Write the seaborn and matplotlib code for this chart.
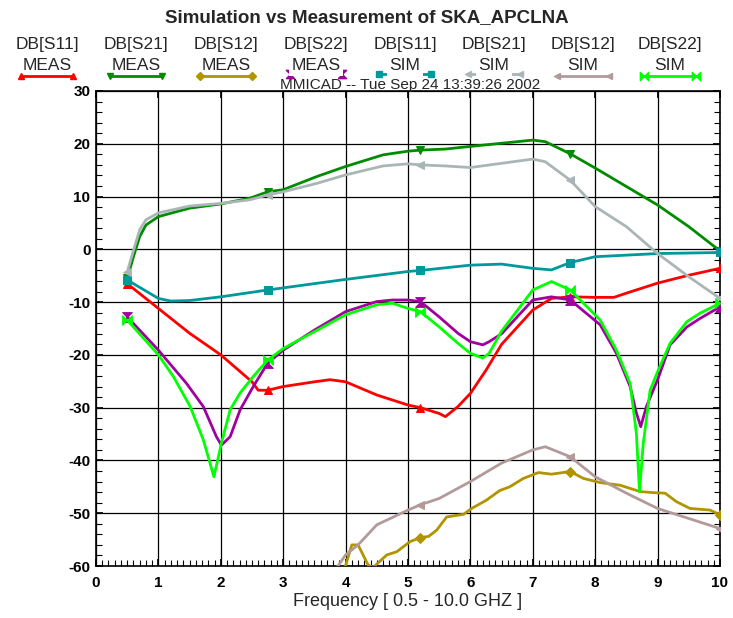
import numpy as np
import pandas as pd
import seaborn as sns
import matplotlib.pyplot as plt
from matplotlib.lines import Line2D
from matplotlib.path import Path

# ---------------- data ----------------
s11_meas_x = [0.5, 1.0, 1.5, 2.0, 2.5, 2.6, 2.75, 3.0, 3.5, 3.75, 4.0, 4.5, 5.0, 5.2, 5.5, 5.6, 5.8, 6.0,
              6.25, 6.5, 7.0, 7.3, 7.6, 8.0, 8.3, 8.5, 9.0, 9.5, 10.0]
s11_meas_y = [-6.5, -11.2, -15.9, -20.0, -25.1, -26.7, -26.7, -26.0, -25.1, -24.7, -25.1, -27.6, -29.5, -30.0,
              -31.1, -31.7, -29.8, -27.3, -22.9, -18.0, -11.5, -9.3, -9.0, -9.1, -9.1, -8.3, -6.4, -4.9, -3.6]

s21_meas_x = [0.5, 0.6, 0.7, 0.8, 1.0, 1.5, 2.0, 2.47, 2.75, 3.0, 3.54, 4.0, 4.6, 5.0, 5.2, 5.6, 6.0, 6.5,
              7.0, 7.2, 7.6, 8.0, 8.5, 9.0, 9.5, 10.0]
s21_meas_y = [-5.5, -1.4, 2.4, 4.6, 6.2, 7.8, 8.6, 9.7, 10.9, 11.3, 13.8, 15.7, 17.9, 18.6, 18.8, 19.0, 19.5,
              20.1, 20.7, 20.4, 18.1, 15.4, 11.9, 8.4, 4.3, -0.3]

s12_meas_x = [3.99, 4.1, 4.2, 4.36, 4.44, 4.66, 4.82, 5.03, 5.2, 5.33, 5.46, 5.62, 5.89, 6.02, 6.26, 6.47,
              6.63, 6.85, 7.09, 7.3, 7.6, 7.81, 8.08, 8.4, 8.72, 8.93, 9.12, 9.3, 9.52, 9.84, 10.0]
s12_meas_y = [-60.3, -56.0, -56.0, -59.8, -60.3, -57.9, -57.3, -55.4, -54.6, -54.4, -53.2, -50.7, -50.2,
              -49.1, -47.5, -45.7, -45.0, -43.4, -42.3, -42.6, -42.1, -43.4, -44.2, -44.7, -45.9, -46.1,
              -46.2, -47.8, -49.1, -49.4, -50.3]

s22_meas_x = [0.5, 1.0, 1.45, 1.72, 1.93, 2.01, 2.15, 2.31, 2.52, 2.75, 3.0, 3.5, 4.0, 4.5, 4.75, 5.0, 5.2,
              5.5, 5.8, 6.0, 6.2, 6.3, 6.5, 7.0, 7.3, 7.6, 8.08, 8.34, 8.56, 8.66, 8.73, 8.82, 9.01,
              9.2, 9.47, 9.68, 10.0]
s22_meas_y = [-12.8, -19.1, -25.4, -29.8, -35.5, -37.1, -35.5, -30.4, -26.0, -21.6, -19.1, -15.3, -11.8,
              -9.9, -9.6, -9.6, -9.9, -12.8, -15.9, -17.5, -18.1, -17.5, -16.0, -9.6, -9.0, -9.6, -14.3,
              -19.7, -26.0, -31.0, -33.6, -29.8, -24.4, -18.1, -14.7, -13.1, -10.9]

s11_sim_x = [0.5, 1.0, 1.2, 1.5, 2.0, 2.75, 3.0, 4.0, 5.0, 5.2, 6.0, 6.5, 7.0, 7.3, 7.6, 8.0, 8.5, 9.0, 10.0]
s11_sim_y = [-5.8, -9.3, -9.8, -9.7, -9.0, -7.7, -7.3, -5.7, -4.2, -4.0, -3.0, -2.8, -3.6, -3.9, -2.5,
             -1.4, -1.1, -0.8, -0.6]

s21_sim_x = [0.5, 0.6, 0.7, 0.8, 1.0, 1.5, 2.0, 2.47, 2.75, 3.0, 3.54, 4.0, 4.6, 5.0, 5.2, 5.6, 6.0, 6.5,
             7.0, 7.2, 7.6, 8.0, 8.5, 9.0, 9.5, 10.0]
s21_sim_y = [-4.3, -0.2, 3.7, 5.6, 6.9, 8.2, 8.7, 9.4, 10.3, 10.9, 12.5, 14.1, 15.8, 16.2, 16.0, 15.8, 15.5,
             16.3, 17.1, 16.6, 13.1, 8.1, 4.3, -0.8, -5.2, -9.3]

s12_sim_x = [3.86, 4.0, 4.2, 4.5, 5.0, 5.2, 5.5, 6.0, 6.5, 7.0, 7.2, 7.6, 8.0, 8.5, 9.0, 9.5, 10.0]
s12_sim_y = [-60.3, -57.9, -56.0, -52.2, -49.4, -48.4, -47.2, -44.0, -40.5, -38.0, -37.4, -39.3, -43.1,
             -46.2, -49.1, -51.0, -52.9]

s22_sim_x = [0.5, 1.0, 1.24, 1.51, 1.72, 1.89, 2.01, 2.15, 2.31, 2.52, 2.75, 3.0, 3.5, 4.0, 4.5, 4.75, 5.0,
             5.2, 5.5, 5.8, 6.0, 6.2, 6.3, 6.5, 7.0, 7.3, 7.6, 8.08, 8.34, 8.56, 8.66, 8.71, 8.77, 8.88,
             9.01, 9.2, 9.47, 9.68, 10.0]
s22_sim_y = [-13.4, -20.0, -24.1, -29.8, -36.1, -43.1, -36.7, -30.4, -27.2, -24.1, -21.0, -18.8, -15.6,
             -12.4, -10.5, -10.2, -11.2, -11.8, -14.7, -17.8, -19.7, -20.6, -19.7, -15.5, -7.7, -6.1,
             -7.7, -13.4, -19.1, -25.4, -34.9, -45.9, -36.8, -26.7, -22.9, -17.8, -13.7, -12.1, -10.2]

marker_freqs = [0.5, 2.75, 5.2, 7.6, 10.0]

legend_top = ["DB[S11]", "DB[S21]", "DB[S12]", "DB[S22]", "DB[S11]", "DB[S21]", "DB[S12]", "DB[S22]"]
legend_bot = ["MEAS", "MEAS", "MEAS", "MEAS", "SIM", "SIM", "SIM", "SIM"]

x_ticks = list(range(0, 11))
y_ticks = list(range(-60, 31, 10))

title = "Simulation vs Measurement of SKA_APCLNA"
subtitle = "MMICAD -- Tue Sep 24 13:39:26 2002"
x_label = "Frequency [ 0.5 - 10.0 GHZ ]"

# ---------------- styles ----------------
hourglass = Path([(-1, -1), (1, -1), (-1, 1), (1, 1), (-1, -1)])
bowtie = Path([(-1, -1), (-1, 1), (1, -1), (1, 1), (-1, -1)])

series = [
    (s11_meas_x, s11_meas_y, "#ff0000", "^", 6),
    (s21_meas_x, s21_meas_y, "#008c00", "v", 6),
    (s12_meas_x, s12_meas_y, "#b09400", "D", 5),
    (s22_meas_x, s22_meas_y, "#a000a0", hourglass, 7),
    (s11_sim_x, s11_sim_y, "#00999b", "s", 6),
    (s21_sim_x, s21_sim_y, "#aab6b6", "<", 6),
    (s12_sim_x, s12_sim_y, "#b39a9a", "<", 6),
    (s22_sim_x, s22_sim_y, "#00ff00", bowtie, 7),
]
draw_order = [6, 2, 5, 1, 4, 0, 3, 7]

sns.set_theme(style="white")
plt.rcParams['font.family'] = ['Liberation Sans', 'DejaVu Sans']

W, H = 733, 618
fig = plt.figure(figsize=(W / 100, H / 100), dpi=100)
ax = fig.add_axes([96 / W, 1 - 566 / H, 624 / W, 475 / H])

for k in draw_order:
    xs, ys, col, mk, ms = series[k]
    idx = [i for i, v in enumerate(xs) if v in marker_freqs]
    df = pd.DataFrame({"f": xs, "db": ys})
    sns.lineplot(data=df, x="f", y="db", ax=ax, color=col, lw=2.0, marker=mk, markersize=ms,
                 markevery=idx, markeredgecolor=col, markerfacecolor=col, estimator=None,
                 sort=False, zorder=3 + k)

ax.set_xlim(0, 10)
ax.set_ylim(-60, 30)
ax.set_xticks(x_ticks)
ax.set_yticks(y_ticks)
ax.set_xticks(np.arange(0, 10.01, 0.1), minor=True)
ax.set_yticks(np.arange(-60, 30.1, 2), minor=True)
ax.set_xticklabels([str(t) for t in x_ticks], fontweight='bold', fontsize=11)
ax.set_yticklabels([str(t) for t in y_ticks], fontweight='bold', fontsize=11)
ax.tick_params(axis='both', which='both', direction='in', colors='black')
ax.tick_params(axis='x', which='minor', bottom=True, top=False, length=4, width=0.8)
ax.tick_params(axis='y', which='minor', left=True, right=True, length=4, width=0.8)
ax.tick_params(axis='x', which='major', bottom=True, top=True, length=5, pad=7)
ax.tick_params(axis='y', which='major', left=True, right=True, length=5, pad=4)
ax.grid(True, which='major', color='black', lw=0.9, zorder=1)
ax.grid(False, which='minor')
ax.set_axisbelow(True)
for sp in ax.spines.values():
    sp.set_color('black')
    sp.set_linewidth(1.2)
ax.set_xlabel(x_label, fontsize=13, labelpad=2)
ax.set_ylabel("")

fig.text(367 / W, 1 - 18 / H, title, ha='center', va='center', fontsize=13.5, fontweight='bold')
fig.text(410 / W, 1 - 85 / H, subtitle, ha='center', va='center', fontsize=11)

centers = [47, 136, 226, 316, 405, 494, 583, 670]
for i, c in enumerate(centers):
    xs, ys, col, mk, ms = series[i]
    fig.text(c / W, 1 - 44 / H, legend_top[i], ha='center', va='center', fontsize=12.5)
    covered = i in (3, 4, 5)
    ly = 1 - (74 if covered else 76) / H
    x0, x1 = (c - 26) / W, (c + 26) / W
    fig.add_artist(Line2D([x0, x1], [ly, ly], color=col, lw=2.0, marker=mk, markersize=ms - 1,
                          markerfacecolor=col, markeredgecolor=col, transform=fig.transFigure, zorder=1))
    if covered:
        fig.text(c / W, 1 - 66 / H, legend_bot[i], ha='center', va='center', fontsize=12.5,
                 bbox=dict(facecolor='white', edgecolor='none', pad=1.5), zorder=5)
    else:
        fig.text(c / W, 1 - 65 / H, legend_bot[i], ha='center', va='center', fontsize=12.5, zorder=5)

fig.savefig("out.png", dpi=100, facecolor='white')
